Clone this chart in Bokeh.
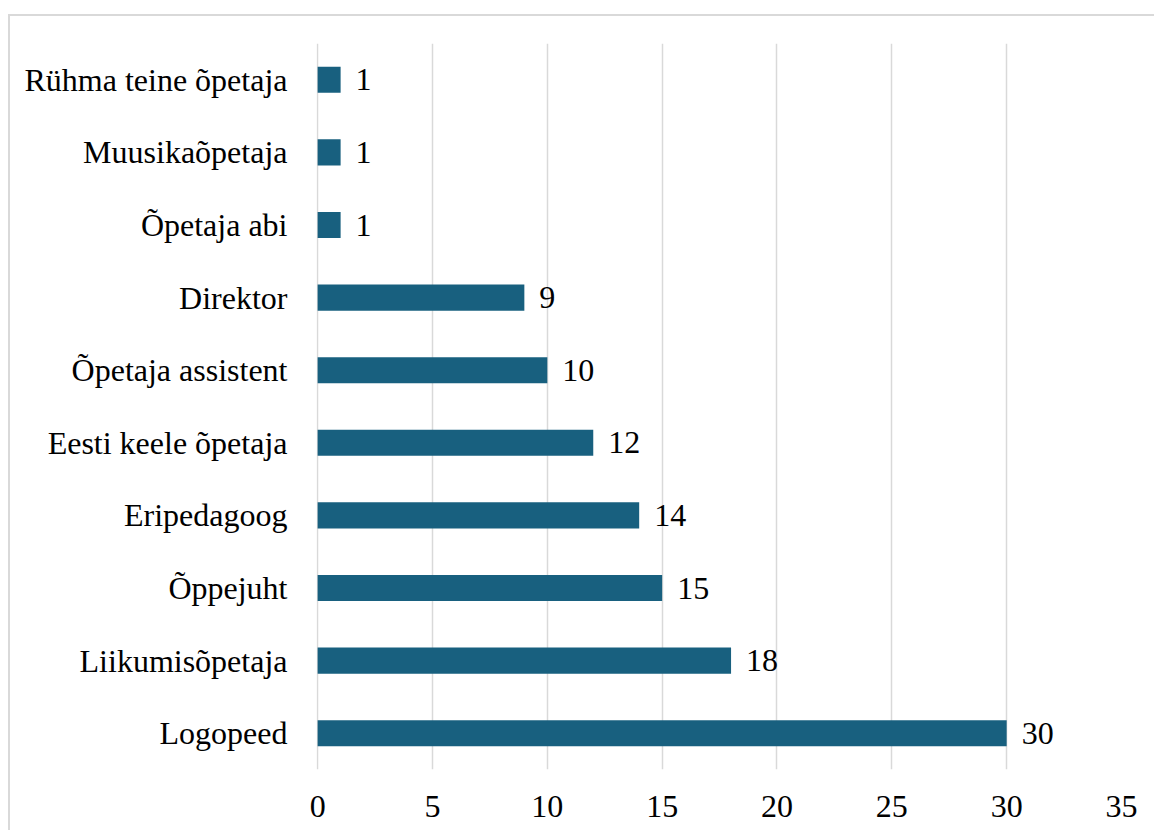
from bokeh.plotting import figure
from bokeh.models import ColumnDataSource, FixedTicker, Range1d
from bokeh.core.properties import value
from bokeh.embed import file_html
from bokeh.resources import INLINE

categories = ["Logopeed", "Liikumisõpetaja", "Õppejuht", "Eripedagoog",
              "Eesti keele õpetaja", "Õpetaja assistent", "Direktor",
              "Õpetaja abi", "Muusikaõpetaja", "Rühma teine õpetaja"]
counts = [30, 18, 15, 14, 12, 10, 9, 1, 1, 1]
x_ticks = [0, 5, 10, 15, 20, 25, 30, 35]

FONT = "Liberation Serif"
BAR = "#18607F"

src = ColumnDataSource(dict(cat=categories, val=counts, lbl=[str(v) for v in counts]))

p = figure(width=1146, height=816, y_range=categories, x_range=Range1d(-0.05, 35),
           output_backend="svg", toolbar_location=None,
           min_border_left=306, min_border_right=35, min_border_top=27, min_border_bottom=63)
p.styles = {"margin-left": "8px", "margin-top": "14px",
            "border-left": "2px solid #d9d9d9", "border-top": "2px solid #d9d9d9"}

p.hbar(y="cat", right="val", left=0, height=0.36, fill_color=BAR, line_color=None, source=src)
p.text(x="val", y="cat", text="lbl", source=src, x_offset=15, text_baseline="middle",
       text_align="left", text_font=value(FONT), text_font_size="32px", text_color="#000000")

p.outline_line_color = None
p.background_fill_color = "white"
p.border_fill_color = "white"

p.xgrid.grid_line_color = "#d9d9d9"
p.xgrid.grid_line_width = 1.5
p.ygrid.grid_line_color = None
p.xaxis.ticker = FixedTicker(ticks=x_ticks)

for ax in (p.xaxis[0], p.yaxis[0]):
    ax.axis_line_color = None
    ax.major_tick_line_color = None
    ax.minor_tick_line_color = None
    ax.major_label_text_font = FONT
    ax.major_label_text_font_size = "32px"
    ax.major_label_text_color = "#000000"
p.xaxis.major_label_standoff = 20
p.yaxis.major_label_standoff = 23

open("out.html", "w").write(file_html(p, INLINE))
